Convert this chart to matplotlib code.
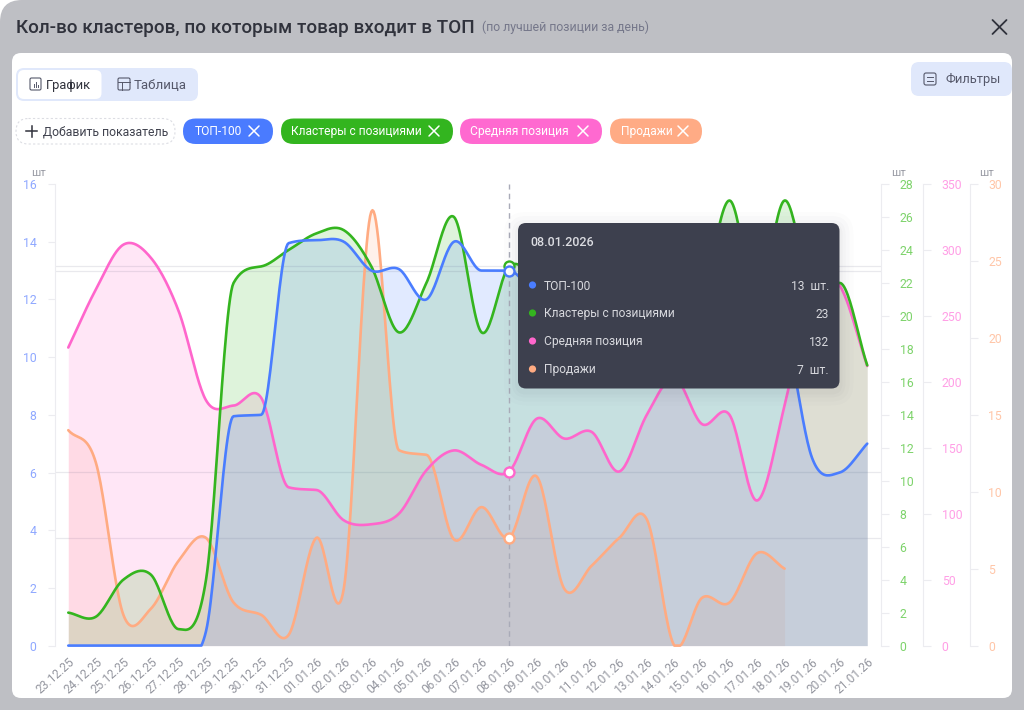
import numpy as np
import matplotlib
matplotlib.use("Agg")
import matplotlib.pyplot as plt
from matplotlib.patches import FancyBboxPatch, Rectangle, Circle

plt.rcParams['font.family'] = ['Roboto', 'DejaVu Sans']

# ---------- data ----------
dates = ["23.12.25","24.12.25","25.12.25","26.12.25","27.12.25","28.12.25","29.12.25","30.12.25","31.12.25",
         "01.01.26","02.01.26","03.01.26","04.01.26","05.01.26","06.01.26","07.01.26","08.01.26","09.01.26",
         "10.01.26","11.01.26","12.01.26","13.01.26","14.01.26","15.01.26","16.01.26","17.01.26","18.01.26",
         "19.01.26","20.01.26","21.01.26"]
top100 = [0,0,0,0,0,0.5,7.95,8.0,13.95,14.05,14.0,13,13.05,12,14,13,13,12,11,11,10,10,9,11,12,12,11,6.5,6,7]
clusters = [2,1.75,4,4.3,1,4,22,23,24,25,25.2,23,19,22,26,19,23,22,19,18,19,18,19,21,27,21,27,22,22,17]
avgpos = [226,270,304,294,254,186,182,188,120,118,95,92,100,133,148,137,132,172,157,162,132,175,203,168,175,110,182,275,273,212]
sales = [14,11.9,2.0,2.4,5.5,7,2.8,2,0.7,7,3.7,28.2,12.7,12.4,6.9,9,7,11,3.7,5.2,7,8.2,0,3.1,2.8,6,5,
         np.nan,np.nan,np.nan]
names = ["ТОП-100","Кластеры с позициями","Средняя позиция","Продажи"]
tip_values = ["13  шт.","23","132","7  шт."]
hover = 16

BLUE, GREEN, PINK, ORANGE = "#4A7DFF", "#34B51F", "#FF66CC", "#FFAB82"

W, H = 1024, 710
fig = plt.figure(figsize=(W/100, H/100), dpi=100, facecolor="white")
fs = lambda px: px*0.72

def pos(x0, y0, x1, y1):
    return [x0/W, 1-y1/H, (x1-x0)/W, (y1-y0)/H]

def overlay(z):
    a = fig.add_axes([0,0,1,1], zorder=z)
    a.set_xlim(0,W); a.set_ylim(H,0); a.axis("off"); a.patch.set_alpha(0)
    return a

def rrect(a, x0, y0, x1, y1, r, fc, ec="none", lw=0, ls="-", alpha=None, z=1):
    p = FancyBboxPatch((x0+r,y0+r),x1-x0-2*r,y1-y0-2*r,boxstyle=f"round,pad={r},rounding_size={r}",
                       fc=fc,ec=ec,lw=lw,ls=ls,alpha=alpha,zorder=z,mutation_aspect=1)
    a.add_patch(p); return p

def cross(a, x, y, s, c, lw=1.1):
    a.plot([x-s,x+s],[y-s,y+s],color=c,lw=lw,solid_capstyle="round",zorder=5)
    a.plot([x-s,x+s],[y+s,y-s],color=c,lw=lw,solid_capstyle="round",zorder=5)

# ---------- chrome ----------
bg = overlay(0)
rrect(bg,0,0,W+30,H+30,22,"#BEBFC4")
rrect(bg,12,53,1012,698,9,"white",z=2)
bg.text(16,28,"Кол-во кластеров, по которым товар входит в ТОП",fontsize=fs(18.9),color="#30323C",va="center",weight=500,zorder=5)
bg.text(482,27.5,"(по лучшей позиции за день)",fontsize=fs(12.2),color="#75778A",va="center",zorder=5)
cross(bg,999.5,27,7,"#30323C",1.3)
rrect(bg,16,68,198,101,8,"#E0E8FB",z=3)
rrect(bg,18,70,101.5,99,6,"white",z=4)
rrect(bg,30,78,41,90,1.5,"none",ec="#55586A",lw=0.8,z=5)
for hx,hh in zip((33.5,35.5,37.5),(3,5,2.5)):
    bg.plot([hx,hx],[87,87-hh],color="#55586A",lw=0.7,zorder=5)
bg.text(46,85.5,"График",fontsize=fs(12.9),color="#30323C",va="center",zorder=5)
rrect(bg,118,78,130,90,1.5,"none",ec="#55586A",lw=0.8,z=5)
bg.plot([118,130],[82,82],color="#55586A",lw=0.7,zorder=5)
bg.plot([122,122],[82,90],color="#55586A",lw=0.7,zorder=5)
bg.text(134,85.5,"Таблица",fontsize=fs(13.2),color="#55586A",va="center",zorder=5)
rrect(bg,911,62,1012,96,8,"#E0E8FB",z=3)
rrect(bg,924,73,936,85,2,"none",ec="#55586A",lw=0.8,z=5)
bg.plot([927,933],[77,77],color="#55586A",lw=0.7,zorder=5)
bg.plot([927,933],[81,81],color="#55586A",lw=0.7,zorder=5)
bg.text(945,79.5,"Фильтры",fontsize=fs(12.9),color="#55586A",va="center",zorder=5)
rrect(bg,16,118.5,175,144,12.5,"white",ec="#DCDDE3",lw=0.8,ls=(0,(2,2)),z=3)
bg.plot([26,37],[131,131],color="#30323C",lw=1.1,zorder=5)
bg.plot([31.5,31.5],[125.5,136.5],color="#30323C",lw=1.1,zorder=5)
bg.text(43,131.5,"Добавить показатель",fontsize=fs(12.2),color="#40424E",va="center",zorder=5)
chips = [(183,273,"#4A7BFF",names[0],195),(281,453,"#33B51F",names[1],291),
         (460,602,"#FF69D0",names[2],470.5),(610,702,"#FFAB85",names[3],620.5)]
for x0,x1,c,t,tx in chips:
    rrect(bg,x0,118.5,x1,144,12.7,c,z=3)
    bg.text(tx,131.5,t,fontsize=fs(12),color="white",va="center",zorder=5)
    cross(bg,x1-19,131,5,"white",1.1)

# ---------- plot ----------
AX0, AX1, TOP, BOT = 54.5, 881, 184, 645.6
AXC = "#ECECF0"
def smooth(vals, n=24):
    y = np.array(vals,dtype=float); x = np.arange(len(y))
    keep = ~np.isnan(y); x = x[keep]; y = y[keep]
    m = np.gradient(y)
    d = np.diff(y)
    for i,dd in enumerate(d):
        if dd == 0:
            m[i] = m[i+1] = 0
        elif m[i]*dd > 0 and m[i+1]*dd > 0:
            a, b = m[i]/dd, m[i+1]/dd
            s = a*a+b*b
            if s > 9:
                k = 3/np.sqrt(s)
                m[i] = k*a*dd; m[i+1] = k*b*dd
    out_x, out_y = [], []
    t = np.linspace(0,1,n,endpoint=False)
    for i in range(len(y)-1):
        h00 = 2*t**3-3*t**2+1; h10 = t**3-2*t**2+t; h01 = -2*t**3+3*t**2; h11 = t**3-t**2
        out_y.append(h00*y[i]+h10*m[i]+h01*y[i+1]+h11*m[i+1])
        out_x.append(x[i]+t)
    out_x.append([x[-1]]); out_y.append([y[-1]])
    return np.concatenate(out_x), np.clip(np.concatenate(out_y),0,None)

ax = fig.add_axes(pos(AX0,TOP,AX1,BOT),zorder=4)
ax.patch.set_alpha(0)
axes_cfg = [
    (ax,top100,BLUE,16,np.arange(0,17,2),"#8FA8FF",None),
    (ax.twinx(),clusters,GREEN,28,np.arange(0,29,2),"#7DD36B",0),
    (ax.twinx(),avgpos,PINK,350,np.arange(0,351,50),"#FF9FE6",42),
    (ax.twinx(),sales,ORANGE,30,np.arange(0,31,5),"#FFC6A8",88.5),
]
# line layers sit above every fill, first series on top
def line_layer(z, ymax):
    a = fig.add_axes(pos(AX0,TOP,AX1,BOT),zorder=z); a.axis("off"); a.patch.set_alpha(0)
    a.set_xlim(-0.5,len(dates)-0.5); a.set_ylim(0,ymax)
    return a

for i,(a,vals,c,ymax,ticks,tc,off) in enumerate(axes_cfg):
    a.set_xlim(-0.5,len(dates)-0.5); a.set_ylim(0,ymax)
    a.set_zorder(4-i); a.patch.set_alpha(0)
    for s in a.spines.values(): s.set_visible(False)
    a.set_yticks(ticks)
    if off is None:
        a.spines["left"].set_visible(True); a.spines["left"].set_color(AXC)
        a.tick_params(axis="y",length=5,width=0.8,color=AXC,labelcolor=tc,labelsize=fs(12.2),pad=8)
    else:
        a.spines["right"].set_visible(True); a.spines["right"].set_color(AXC)
        a.spines["right"].set_position(("outward",off*0.72))
        a.tick_params(axis="y",length=5.4,width=0.8,color=AXC,labelcolor=tc,labelsize=fs(12.2),pad=8)
    xs,ys = smooth(vals)
    a.fill_between(xs,0,ys,color=c,alpha=0.16,lw=0)
    a.axhline(vals[hover],color="#55587A",alpha=0.13,lw=0.9,zorder=2)
    ll = line_layer(9-i, ymax)
    ll.plot(xs,ys,color=c,lw=1.9,solid_capstyle="round",clip_on=False)

ax.set_xticks(range(len(dates)))
ax.set_xticklabels(dates,rotation=42,ha="right",rotation_mode="anchor",fontsize=fs(12),color="#94969F")
ax.tick_params(axis="x",length=0,pad=7)
for lx,lt in ((38,"шт"),(898,"шт"),(987,"шт")):
    bg.text(lx,172.5,lt,fontsize=fs(11.5),color="#9A9CA5",ha="center",va="center",zorder=5)

# hover layer
mk = fig.add_axes(pos(AX0,TOP,AX1,BOT),zorder=12); mk.axis("off"); mk.patch.set_alpha(0)
mk.set_xlim(-0.5,len(dates)-0.5); mk.set_ylim(0,1)
mk.axvline(hover,color="#A9ABB8",lw=1,ls=(0,(4,3)),zorder=1)
for a,vals,c,ymax,*_ in [axes_cfg[3],axes_cfg[2],axes_cfg[1],axes_cfg[0]]:
    mk.plot([hover],[vals[hover]/ymax],"o",ms=7.2,mfc="white",mec=c,mew=1.7,clip_on=False)

# ---------- tooltip ----------
tp = overlay(20)
for g,al in ((14,0.012),(10,0.015),(6,0.02),(3,0.025)):
    rrect(tp,518-g,223-g+3,839.5+g,388.5+g+3,8+g,"#30324A",alpha=al,z=1)
rrect(tp,518,223,839.5,388.5,8,"#3D404E",z=2)
tp.text(530,243,dates[hover][:6]+"2026",fontsize=fs(12.5),color="#DCDDE2",va="center",weight=500,zorder=3)
for y,c,n,v in zip((286,314,342,370),(BLUE,GREEN,PINK,ORANGE),names,tip_values):
    tp.add_patch(Circle((532.5,y-1),3.6,fc=c,ec="none",zorder=3))
    tp.text(544,y,n,fontsize=fs(12),color="#D8D9DE",va="center",zorder=3)
    tp.text(829,y,v,fontsize=fs(12),color="#D8D9DE",va="center",ha="right",zorder=3)

fig.savefig("out.png",dpi=100)
